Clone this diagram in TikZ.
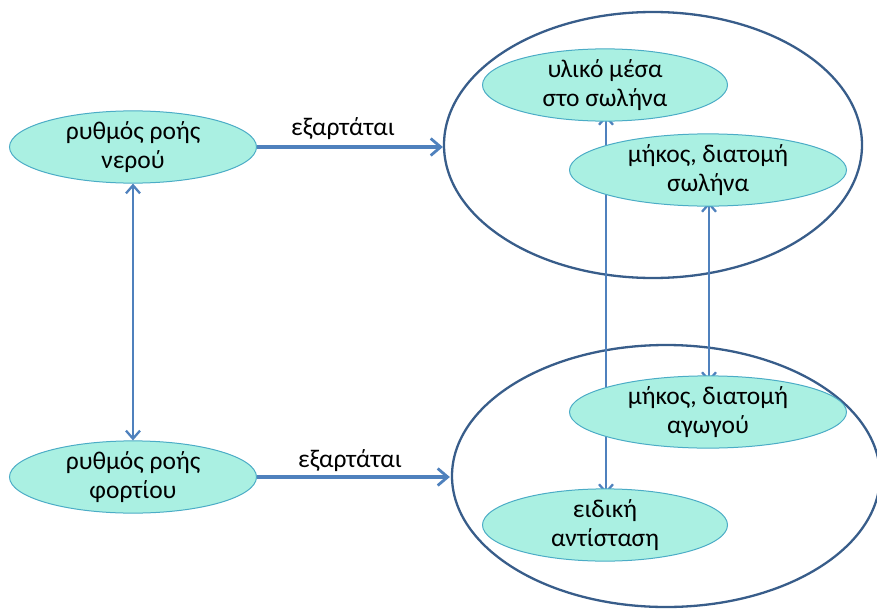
\documentclass[tikz,border=0pt]{standalone}
\usepackage{fontspec}
\setmainfont{Carlito}
\usetikzlibrary{shapes.geometric,arrows.meta}
\definecolor{concfill}{RGB}{170,240,226}
\definecolor{concline}{RGB}{75,172,198}
\definecolor{linkblue}{RGB}{79,129,189}
\definecolor{groupline}{RGB}{56,93,138}
\tikzset{
  concept/.style={ellipse, draw=concline, line width=1pt, fill=concfill,
    inner sep=0pt, align=center, font=\fontsize{25.5}{29}\selectfont},
  group/.style={ellipse, draw=groupline, line width=2.3pt, inner sep=0pt},
  link/.style={draw=linkblue, line width=3.5pt,
    -{Straight Barb[length=10pt,width=17pt,line width=2.8pt]}},
  dlink/.style={draw=linkblue, line width=2.8pt,
    {Straight Barb[length=8pt,width=14pt,line width=2.3pt]}-{Straight Barb[length=8pt,width=14pt,line width=2.3pt]}},
  lbl/.style={font=\fontsize{25.5}{29}\selectfont, inner sep=0pt}
}
\begin{document}
\begin{tikzpicture}[x=1pt,y=-1pt]
\useasboundingbox (0,0) rectangle (877,610);
% grouping ellipses
\node[group, minimum width=418pt, minimum height=266pt] (top) at (653,145) {};
\node[group, minimum width=428pt, minimum height=262pt] (bot) at (666,476) {};
% end points of the vertical links
\coordinate (c1) at (606,115);
\coordinate (f1) at (606,494);
\coordinate (d1) at (709,202);
\coordinate (e1) at (709,382);
\draw[dlink] (c1) -- (f1);
\draw[dlink] (d1) -- (e1);
% concepts
\node[concept, minimum width=247pt, minimum height=60pt] (water) at (133,147) {ρυθμός ροής\\νερού};
\node[concept, minimum width=247pt, minimum height=60pt] (charge) at (133,477) {ρυθμός ροής\\φορτίου};
\node[concept, minimum width=245pt, minimum height=60pt] (mat) at (605,85) {υλικό μέσα\\στο σωλήνα};
\node[concept, minimum width=277pt, minimum height=63pt] (pipe) at (708,170) {μήκος, διατομή\\σωλήνα};
\node[concept, minimum width=277pt, minimum height=60pt] (wire) at (708,412) {μήκος, διατομή\\αγωγού};
\node[concept, minimum width=245pt, minimum height=63pt] (res) at (605,525) {ειδική\\αντίσταση};
% links
\draw[link] (water.east) -- (top.west |- water.east);
\draw[link] (charge.east) -- ([xshift=-1pt]bot.west |- charge.east);
\draw[dlink] (water.south) -- (charge.north);
\node[lbl] (l1) at (343,129) {εξαρτάται};
\node[lbl] (l2) at (350,461) {εξαρτάται};
\end{tikzpicture}
\end{document}
